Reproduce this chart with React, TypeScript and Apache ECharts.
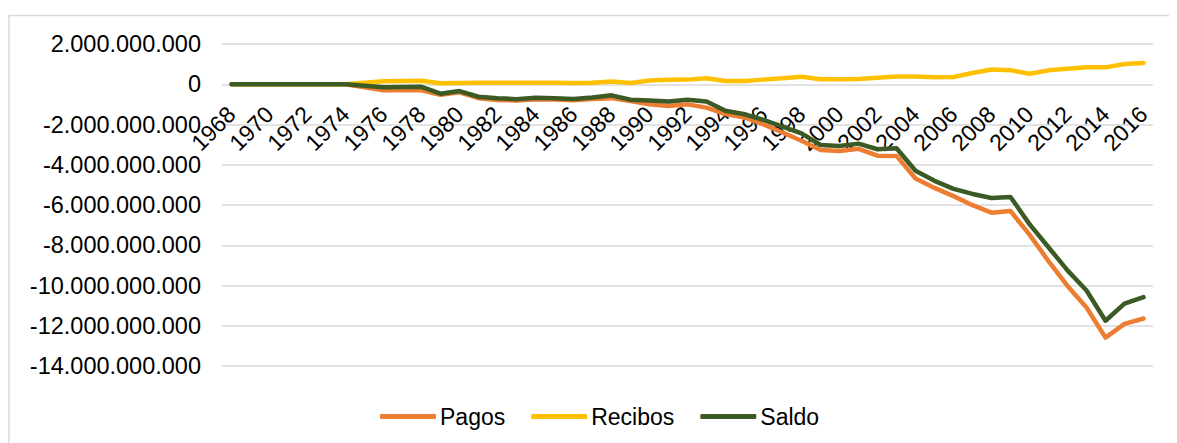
import React, { useEffect, useRef } from "react";
import * as echarts from "echarts";

const years: string[] = [];
for (let y = 1968; y <= 2016; y++) years.push(String(y));

// values in millions
const pagosM = [
  0, 0, 0, 0, 0, 0, 0, -150, -300, -300, -300, -520, -400, -690, -780, -810, -740, -760, -790, -730,
  -690, -830, -1000, -1080, -1000, -1160, -1480, -1650, -2000, -2400, -2810, -3270, -3320, -3210,
  -3550, -3560, -4680, -5150, -5560, -6010, -6380, -6300, -7470, -8790, -10020, -11090, -12590,
  -11910, -11640,
];
const recibosM = [
  0, 0, 0, 0, 0, 0, 0, 80, 150, 160, 170, 50, 60, 70, 80, 70, 70, 70, 60, 70, 140, 60, 190, 220,
  230, 300, 160, 160, 230, 300, 370, 250, 250, 260, 320, 380, 380, 350, 360, 560, 730, 700, 520,
  690, 770, 840, 840, 1010, 1060,
];
const saldoM = [
  0, 0, 0, 0, 0, 0, 0, -70, -150, -140, -130, -470, -340, -620, -700, -740, -670, -690, -730, -660,
  -550, -770, -810, -860, -770, -860, -1320, -1490, -1770, -2100, -2440, -3020, -3070, -2950,
  -3230, -3180, -4300, -4800, -5200, -5450, -5650, -5600, -6950, -8100, -9250, -10250, -11750,
  -10900, -10580,
];

const seriesNames = ["Pagos", "Recibos", "Saldo"];
const seriesColors = ["#ED7D31", "#FFC000", "#3B5A24"];

const FONT = "'Liberation Sans', Arial, sans-serif";

function fmt(v: number): string {
  return Math.round(v).toString().replace(/\B(?=(\d{3})+(?!\d))/g, ".");
}

export default function App() {
  const ref = useRef<HTMLDivElement>(null);
  useEffect(() => {
    if (!ref.current) return;
    const chart = echarts.init(ref.current, null, { renderer: "svg" });
    const datasets = [pagosM, recibosM, saldoM];
    chart.setOption({
      animation: false,
      graphic: [
        {
          type: "rect",
          shape: { x: 1, y: 7.5, width: 1400, height: 800 },
          style: { fill: "none", stroke: "#d9d9d9", lineWidth: 1.5 },
          silent: true,
        },
      ],
      grid: { left: 214, right: 24, top: 36, bottom: 77 },
      xAxis: {
        type: "category",
        data: years,
        boundaryGap: true,
        position: "bottom",
        offset: -280.6,
        axisLine: { show: false, onZero: false },
        axisTick: { show: false },
        axisLabel: {
          interval: 1,
          rotate: 45,
          margin: 25,
          color: "#000",
          fontSize: 23,
          fontFamily: FONT,
        },
        splitLine: { show: false },
      },
      yAxis: {
        type: "value",
        min: -14000000000,
        max: 2000000000,
        interval: 2000000000,
        axisLine: { show: false },
        axisTick: { show: false },
        axisLabel: {
          formatter: (v: number) => fmt(v),
          color: "#000",
          fontSize: 23.5,
          fontFamily: FONT,
          margin: 21,
        },
        splitLine: { lineStyle: { color: "#d9d9d9", width: 1.5 } },
      },
      legend: {
        data: seriesNames.map((n) => ({ name: n, icon: "roundRect" })),
        left: 367,
        top: 392,
        itemWidth: 56,
        itemHeight: 5,
        itemGap: 26,
        textStyle: { color: "#000", fontSize: 23, fontFamily: FONT, padding: [0, 0, 0, -1] },
      },
      series: seriesNames.map((n, i) => ({
        name: n,
        type: "line",
        data: datasets[i].map((v) => v * 1e6),
        showSymbol: false,
        symbol: "none",
        color: seriesColors[i],
        lineStyle: { color: seriesColors[i], width: 4.5, cap: "round", join: "round" },
        itemStyle: { color: seriesColors[i] },
        z: 2 + i,
      })),
    });
    return () => chart.dispose();
  }, []);
  return <div ref={ref} style={{ width: 1169, height: 435 }} />;
}
